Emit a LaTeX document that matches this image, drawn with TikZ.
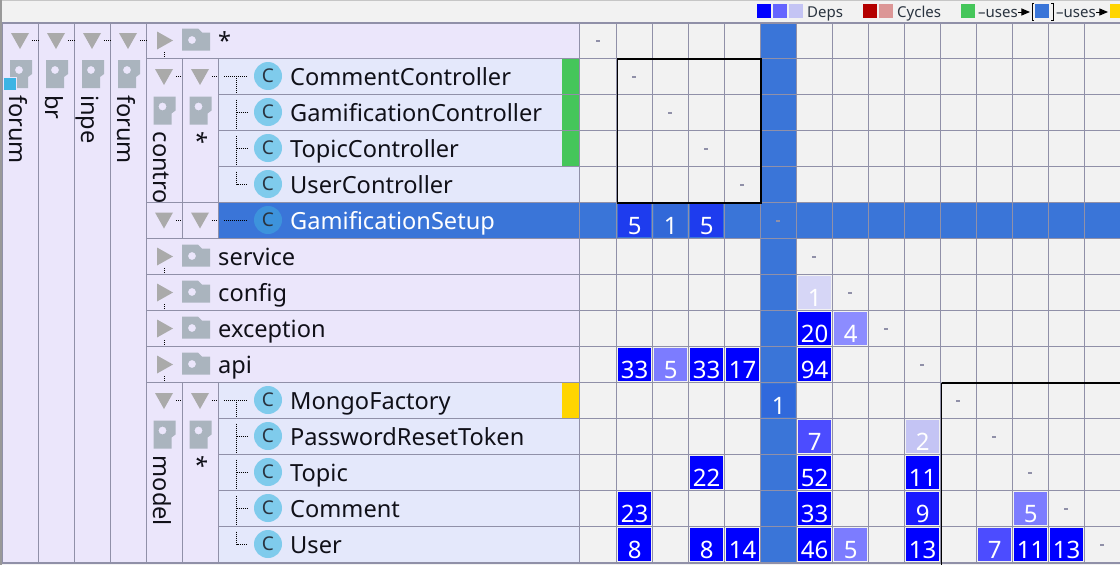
\documentclass[tikz,border=0pt]{standalone}
\usepackage{fontspec}
\setmainfont{Noto Sans}
\usetikzlibrary{arrows}
\definecolor{barbg}{HTML}{F2F2F2}
\definecolor{pkgbg}{HTML}{EBE6FB}
\definecolor{classbg}{HTML}{E4E8FB}
\definecolor{gridc}{HTML}{9090A8}
\definecolor{selblue}{HTML}{3A75D8}
\definecolor{selicon}{HTML}{3D93DC}
\definecolor{trigray}{HTML}{AAAAAA}
\definecolor{foldgray}{HTML}{AAB4BE}
\definecolor{classblue}{HTML}{7FCBEC}
\definecolor{usesgreen}{HTML}{45C65A}
\definecolor{usedyellow}{HTML}{FFD500}
\definecolor{badge}{HTML}{3CB4E4}
\definecolor{txt}{HTML}{101018}
\definecolor{legtxt}{HTML}{2A3440}
\definecolor{depsa}{HTML}{0000FF}
\definecolor{depsb}{HTML}{6666FF}
\definecolor{depsc}{HTML}{C4C4F4}
\definecolor{cyca}{HTML}{B40000}
\definecolor{cycb}{HTML}{DC9696}
\tikzset{
  treedots/.style = {black, line width=1pt, dash pattern=on 1pt off 1pt},
  gridline/.style = {gridc, line width=1.2pt},
  rowname/.style = {anchor=base west, inner sep=0pt, text=txt, font=\fontsize{23.6}{28}\selectfont},
  vertname/.style = {rowname, rotate=-90},
  classicon/.style = {circle, minimum size=28pt, inner sep=0pt, fill=classblue, text=legtxt, font=\fontsize{19}{22}\selectfont},
  depcell/.style = {inner sep=0pt, text width=33pt, align=center, text height=30pt, text depth=3pt, text=white, font=\fontsize{24}{28}\selectfont},
  diagmark/.style = {fill=gridc, inner sep=0pt, minimum width=4pt, minimum height=2pt},
  legbox/.style = {inner sep=0pt, minimum size=14pt},
  legname/.style = {anchor=base west, inner sep=0pt, text=legtxt, font=\fontsize{15}{18}\selectfont},
  legarrow/.style = {black, line width=1pt, -triangle 45},
  pics/downtri/.style = {code={\fill[trigray] (-9,-8) -- (9,-8) -- (0,8) -- cycle;}},
  pics/righttri/.style = {code={\fill[trigray] (-8,-9) -- (8,0) -- (-8,9) -- cycle;}},
  pics/folder/.style = {code={
    \fill[foldgray, even odd rule] (-14,-12) -- (2,-12) -- (6,-8) -- (14,-8) -- (14,10) -- (-14,10) -- cycle
      (-4,-0.5) circle (4);}},
  pics/vertfolder/.style = {code={
    \fill[foldgray, even odd rule] (-11,-14) -- (11,-14) -- (11,0) -- (7,3) -- (7,14) -- (-11,14) -- cycle
      (-2,-4) circle (4);}},
}
\begin{document}
\begin{tikzpicture}[x=1pt, y=-1pt]
\useasboundingbox (0,0) rectangle (1120,565);
\fill[barbg] (0,0) rectangle (1120,565);
\fill[gray!45] (0,0) rectangle (1120,1);
\fill[gray!80] (0,0) rectangle (2,565);
\fill[pkgbg] (2.5,22.5) rectangle (579.5,562.5);
\fill[classbg] (218.5,58.5) rectangle (579.5,202.5);
\fill[classbg] (218.5,382.5) rectangle (579.5,562.5);
\fill[selblue] (218.5,202.5) rectangle (1120,238.5);
\fill[selblue] (760.5,22.5) rectangle (796.5,562.5);
\foreach \r in {1,2,3} {
  \fill[usesgreen] (561.5,22.5+36*\r) rectangle (579.5,58.5+36*\r);
}
\fill[usedyellow] (561.5,382.5) rectangle (579.5,418.5);

\foreach \r/\c/\v/\clr in {5/1/5/1E3CEE, 5/2/1/3268D8, 5/3/5/1E3CEE,
    7/6/1/D6D6F6, 8/6/20/0000FF, 8/7/4/8C8CFF,
    9/1/33/0000FF, 9/2/5/7C7CFF, 9/3/33/0000FF, 9/4/17/0000FF, 9/6/94/0000FF,
    10/5/1/3069DC, 11/6/7/4C4CFF, 11/9/2/C4C4F4,
    12/3/22/0000FF, 12/6/52/0000FF, 12/9/11/0000FF,
    13/1/23/0000FF, 13/6/33/0000FF, 13/9/9/1A1AFF, 13/12/5/7C7CFF,
    14/1/8/0000FF, 14/3/8/0000FF, 14/4/14/0000FF, 14/6/46/0000FF, 14/7/5/7C7CFF,
    14/9/13/0000FF, 14/11/7/4C4CFF, 14/12/11/0000FF, 14/13/13/0000FF} {
  \definecolor{cellc}{HTML}{\clr}
  \node[depcell, fill=cellc, anchor=north west] (cell\r c\c) at (582+36*\c, 24+36*\r) {\v};
}

\foreach \x in {38.5,74.5,110.5,146.5} {
  \draw[gridline] (\x,22.5) -- (\x,562.5);
}
\foreach \x in {182.5,218.5} {
  \draw[gridline] (\x,58.5) -- (\x,238.5);
  \draw[gridline] (\x,382.5) -- (\x,562.5);
}
\foreach \x in {616.5,652.5,...,1120} {
  \draw[gridline] (\x,22.5) -- (\x,562.5);
}
\draw[gridline] (579.5,22.5) -- (579.5,562.5);
\draw[gridline] (2.5,22.5) -- (2.5,562.5);
\foreach \r in {1,...,14} {
  \draw[gridline] (579.5,22.5+36*\r) -- (1120,22.5+36*\r);
}
\foreach \r in {1,5,6,7,8,9,10} {
  \draw[gridline] (146.5,22.5+36*\r) -- (579.5,22.5+36*\r);
}
\foreach \r in {2,3,4,11,12,13,14} {
  \draw[gridline] (218.5,22.5+36*\r) -- (579.5,22.5+36*\r);
}
\draw[gridline, line width=2pt] (2,22.5) -- (1120,22.5);
\draw[gridline, line width=1.5pt] (2,562.8) -- (1120,562.8);
\draw[black, line width=1.2pt] (617.5,59) rectangle (761,203);
\draw[black, line width=1.2pt] (941.5,383) -- (1121,383);
\draw[black, line width=1.2pt] (941.5,383) -- (941.5,565);

\foreach \r/\cx in {0/598,1/634,2/670,3/706,4/742,5/778,6/814,7/850,8/886,9/922,10/958,11/994,12/1030,13/1066,14/1102} {
  \node[diagmark] (diag\r) at (\cx, 40.7+36*\r) {};
}

\foreach \x/\n/\t in {2.5/a/forum, 38.5/b/br, 74.5/c/inpe, 110.5/d/forum} {
  \pic at (\x+17.5,41) {downtri};
  \pic at (\x+18.5,74) {vertfolder};
  \node[vertname] (pkg\n) at (\x+7,95) {\t};
  \draw[treedots] (\x+29.5,40.5) -- (\x+36,40.5);
}
\fill[pkgbg] (3,77) rectangle (17,91);
\fill[badge] (4,78) rectangle (16,90);

\foreach \y/\n/\t in {22.5/root/{*}, 238.5/service/service, 274.5/config/config, 310.5/exception/exception, 346.5/api/api} {
  \pic at (165,\y+18) {righttri};
  \pic at (196,\y+18) {folder};
  \node[rowname] (row\n) at (218,\y+26.8) {\t};
  \draw[treedots] (164.5,\y+29.5) -- (164.5,\y+35.5);
}

\foreach \y/\n/\a/\b in {58.5/ctrl/contro/{*}, 382.5/model/model/{*}} {
  \pic at (164,\y+18.5) {downtri};
  \pic at (200,\y+18.5) {downtri};
  \pic at (164.5,\y+52) {vertfolder};
  \pic at (200.5,\y+52) {vertfolder};
  \node[vertname] (\n a) at (153.5,\y+73) {\a};
  \node[vertname] (\n b) at (189.5,\y+73) {\b};
  \draw[treedots] (176,\y+17.5) -- (182,\y+17.5);
  \draw[treedots] (212,\y+17.5) -- (218,\y+17.5);
}
\pic at (164,220.5) {downtri};
\pic at (200,220.5) {downtri};
\draw[treedots] (176,220.5) -- (182,220.5);
\draw[treedots] (212,220.5) -- (218,220.5);
\draw[treedots] (224,220.5) -- (247,220.5);

\foreach \y/\n/\t in {58.5/cComment/CommentController, 94.5/cGamification/GamificationController,
    130.5/cTopic/TopicController, 166.5/cUser/UserController,
    382.5/cMongo/MongoFactory, 418.5/cReset/PasswordResetToken, 454.5/cModelTopic/Topic,
    490.5/cModelComment/Comment, 526.5/cModelUser/User} {
  \node[classicon] (\n) at (268,\y+17.5) {C};
  \node[rowname] (label\n) at (290,\y+26.8) {\t};
}
\node[classicon, fill=selicon] (cSetup) at (268,220) {C};
\node[rowname, text=white] (labelSetup) at (290,229.3) {GamificationSetup};

\foreach \y/\rows in {58.5/{1,2}, 382.5/{1,2,3}} {
  \draw[treedots] (224,\y+17.5) -- (247,\y+17.5);
  \draw[treedots] (236.5,\y+17.5) -- (236.5,\y+35);
  \foreach \r in \rows {
    \draw[treedots] (236.5,\y+5+36*\r) -- (236.5,\y+35+36*\r);
    \draw[treedots] (236.5,\y+17.5+36*\r) -- (247,\y+17.5+36*\r);
  }
}
\draw[treedots] (236.5,171.5) -- (236.5,184) -- (247,184);
\draw[treedots] (236.5,531.5) -- (236.5,544) -- (247,544);

\node[legbox, fill=depsa] (depsA) at (764,11) {};
\node[legbox, fill=depsb] (depsB) at (780,11) {};
\node[legbox, fill=depsc] (depsC) at (796,11) {};
\node[legname] (depsName) at (807,17) {Deps};
\node[legbox, fill=cyca] (cycA) at (870,11) {};
\node[legbox, fill=cycb] (cycB) at (886,11) {};
\node[legname] (cycName) at (897,17) {Cycles};
\node[legbox, fill=usesgreen] (usesFrom) at (968,11) {};
\node[legname] (usesA) at (978,17) {–uses};
\draw[legarrow] (usesA.east |- 0,12) -- ++(12,0);
\node[legbox, fill=selblue] (usesSel) at (1042,11) {};
\draw[black, line width=1pt] (1034,3) -- (1032,3) -- (1032,20) -- (1034,20);
\draw[black, line width=1pt] (1051,3) -- (1053,3) -- (1053,20) -- (1051,20);
\node[legname] (usesB) at (1056,17) {–uses};
\draw[legarrow] (usesB.east |- 0,12) -- ++(12,0);
\fill[usedyellow] (1110,4) rectangle (1120,18);
\end{tikzpicture}
\end{document}
